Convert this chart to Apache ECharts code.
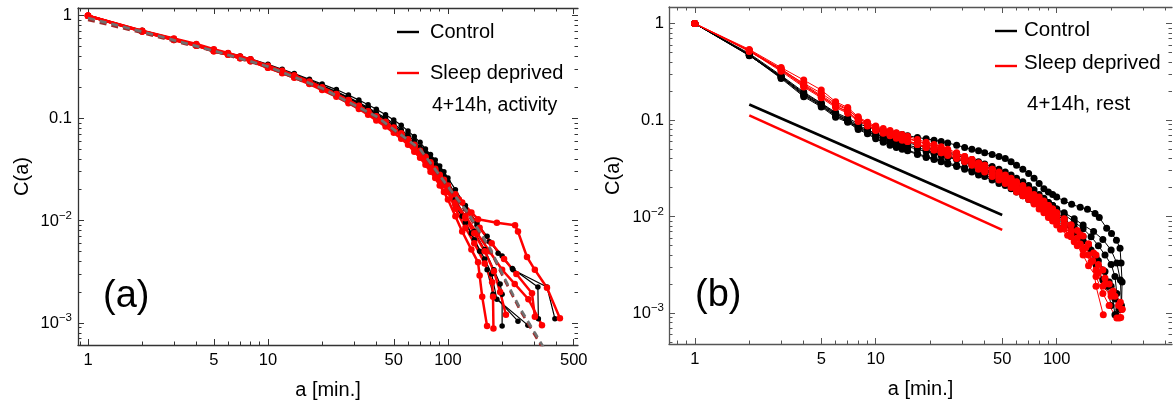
<!DOCTYPE html>
<html><head><meta charset="utf-8">
<script src="https://cdn.jsdelivr.net/npm/echarts@6/dist/echarts.min.js"></script>
<style>html,body{margin:0;padding:0;background:#fff}#c{width:1173px;height:403px}</style>
</head><body><div id="c"></div>
<script>
// ---------- Panel (a): activity ----------
const aGridA = [1,2,3,4,5,6,7,8,10,12,14,17,20,24,28,32,36,40,45,50,55,60,65,70,75,80,85,90,95,100];
const ctlA1 = [1,0.72,0.60,0.53,0.47,0.435,0.405,0.38,0.335,0.30,0.273,0.24,0.215,0.19,0.168,0.15,0.135,0.122,0.108,0.096,0.085,0.075,0.066,0.058,0.05,0.044,0.039,0.034,0.030,0.026];
const ctlA2 = [1,0.71,0.595,0.525,0.465,0.43,0.40,0.375,0.33,0.295,0.268,0.235,0.208,0.182,0.16,0.142,0.127,0.113,0.10,0.088,0.077,0.068,0.06,0.052,0.046,0.04,0.035,0.031,0.027,0.024];
const ctlA3 = [1,0.70,0.585,0.515,0.455,0.42,0.39,0.365,0.32,0.288,0.262,0.23,0.203,0.177,0.155,0.137,0.122,0.108,0.095,0.083,0.073,0.064,0.056,0.049,0.043,0.037,0.032,0.028,0.024,0.021];
const ctlA4 = [1,0.71,0.59,0.52,0.46,0.425,0.395,0.37,0.325,0.29,0.263,0.232,0.206,0.18,0.158,0.14,0.124,0.11,0.097,0.085,0.074,0.065,0.057,0.05,0.044,0.038,0.033,0.029,0.025,0.022];
const ctlA5 = [1,0.705,0.585,0.515,0.455,0.42,0.39,0.365,0.32,0.285,0.258,0.226,0.2,0.175,0.153,0.135,0.12,0.106,0.093,0.082,0.072,0.063,0.055,0.048,0.042,0.036,0.031,0.027,0.023,0.02];
const ctlA1Tail = [[110,0.02],[125,0.014],[145,0.0095],[165,0.007],[190,0.0048],[230,0.0033],[355,0.00224],[393,0.0011]];
const ctlA2Tail = [[110,0.018],[125,0.013],[145,0.009],[170,0.0062],[200,0.0045],[228,0.0034],[316,0.00224],[318,0.0011]];
const ctlA3Tail = [[110,0.016],[125,0.011],[140,0.0078],[160,0.0052],[180,0.0033],[195,0.0024],[200,0.0019],[200,0.00093]];
const ctlA4Tail = [[110,0.015],[120,0.011],[135,0.0075],[150,0.005],[165,0.0033],[178,0.0019],[245,0.00104]];
const ctlA5Tail = [[110,0.014],[125,0.0095],[140,0.0065],[160,0.0042],[175,0.003],[187,0.0017],[278,0.00095]];

const sdA1 = [1,0.715,0.60,0.53,0.47,0.432,0.40,0.375,0.325,0.29,0.262,0.228,0.2,0.172,0.15,0.132,0.117,0.104,0.092,0.081,0.071,0.062,0.055,0.048,0.042,0.037,0.032,0.028,0.025,0.022];
const sdA2 = [1,0.70,0.58,0.51,0.45,0.415,0.385,0.36,0.31,0.275,0.248,0.215,0.188,0.162,0.14,0.123,0.108,0.095,0.083,0.072,0.063,0.055,0.047,0.041,0.035,0.03,0.026,0.022,0.019,0.016];
const sdA3 = [1,0.705,0.585,0.515,0.455,0.42,0.39,0.365,0.315,0.28,0.253,0.22,0.193,0.167,0.145,0.128,0.113,0.1,0.088,0.077,0.067,0.059,0.051,0.045,0.039,0.034,0.029,0.025,0.022,0.019];
const sdA4 = [1,0.71,0.59,0.52,0.46,0.425,0.395,0.37,0.32,0.285,0.257,0.224,0.197,0.171,0.149,0.131,0.116,0.103,0.091,0.08,0.07,0.061,0.054,0.047,0.041,0.036,0.031,0.027,0.024,0.021];
const sdA5 = [1,0.70,0.58,0.51,0.45,0.415,0.385,0.36,0.31,0.277,0.25,0.218,0.192,0.167,0.146,0.129,0.114,0.101,0.089,0.078,0.068,0.06,0.052,0.046,0.04,0.035,0.03,0.026,0.023,0.02];
const sdA6 = [1,0.70,0.585,0.515,0.455,0.42,0.39,0.365,0.318,0.283,0.255,0.222,0.195,0.169,0.147,0.13,0.115,0.102,0.09,0.079,0.069,0.06,0.053,0.046,0.04,0.035,0.03,0.026,0.023,0.02];
const sdA1Tail = [[110,0.018],[120,0.015],[135,0.012],[147,0.0103],[187,0.0095],[236,0.009],[245,0.0078],[275,0.0044],[304,0.0033],[355,0.0022],[419,0.00111]];
const sdA2Tail = [[110,0.011],[120,0.0078],[135,0.0052],[147,0.0039],[150,0.0029],[155,0.0018],[165,0.00093]];
const sdA3Tail = [[110,0.013],[125,0.0085],[140,0.006],[160,0.0038],[176,0.0025],[178,0.0018],[179,0.00088]];
const sdA4Tail = [[115,0.016],[130,0.012],[150,0.0085],[175,0.006],[205,0.0042],[240,0.003],[293,0.00195],[304,0.00115]];
const sdA5Tail = [[110,0.015],[125,0.011],[145,0.0075],[170,0.005],[200,0.0033],[235,0.0024],[280,0.0017],[333,0.00095]];
const sdA6Tail = [[110,0.0145],[125,0.0105],[140,0.0075],[160,0.005],[180,0.0032],[195,0.002],[210,0.0012]];

const fitDarkA = [[1,0.91],[2,0.68],[5,0.45],[10,0.315],[20,0.192],[40,0.102],[70,0.049],[100,0.021],[128,0.0118],[171,0.0052],[207,0.0026],[251,0.00134],[304,0.00076],[346,0.00052]];
const fitGrayA = [[1,0.95],[2,0.70],[5,0.455],[10,0.32],[20,0.196],[40,0.104],[70,0.05],[100,0.0215],[128,0.0122],[171,0.0054],[207,0.0027],[251,0.0014],[304,0.0008],[346,0.00055]];

// ---------- Panel (b): rest ----------
const aGridB = [1,2,3,4,5,6,7,8,9,10,11,12,13,14,15,17,19,21,23,25,28,31,34,37,40,44,48,52,56,60,65,70,75,80,85,90,95,100];
const ctlB1 = [1,0.49,0.29,0.195,0.15,0.12,0.105,0.092,0.085,0.08,0.077,0.075,0.073,0.071,0.069,0.066,0.064,0.062,0.06,0.058,0.055,0.052,0.05,0.048,0.046,0.044,0.042,0.04,0.037,0.034,0.031,0.028,0.025,0.022,0.0195,0.018,0.017,0.016];
const ctlB2 = [1,0.48,0.28,0.185,0.145,0.115,0.1,0.085,0.078,0.072,0.068,0.065,0.062,0.06,0.058,0.055,0.052,0.05,0.048,0.046,0.043,0.041,0.039,0.037,0.035,0.033,0.031,0.029,0.027,0.025,0.023,0.021,0.019,0.017,0.0155,0.014,0.013,0.012];
const ctlB3 = [1,0.47,0.275,0.18,0.14,0.11,0.097,0.082,0.074,0.066,0.061,0.057,0.054,0.051,0.049,0.045,0.042,0.04,0.038,0.036,0.034,0.032,0.03,0.028,0.027,0.025,0.023,0.022,0.02,0.019,0.0175,0.016,0.015,0.014,0.013,0.012,0.0112,0.0105];
const ctlB4 = [1,0.47,0.27,0.175,0.137,0.107,0.095,0.08,0.072,0.064,0.059,0.055,0.052,0.05,0.048,0.044,0.041,0.039,0.037,0.035,0.033,0.031,0.029,0.027,0.026,0.024,0.022,0.021,0.0195,0.018,0.0165,0.015,0.014,0.013,0.012,0.011,0.0102,0.0095];
const ctlB5 = [1,0.465,0.28,0.185,0.142,0.112,0.098,0.084,0.076,0.069,0.064,0.06,0.057,0.055,0.053,0.05,0.047,0.045,0.043,0.041,0.039,0.037,0.035,0.033,0.031,0.029,0.027,0.025,0.023,0.022,0.02,0.018,0.017,0.016,0.015,0.014,0.013,0.012];
const ctlB6 = [1,0.475,0.285,0.19,0.148,0.117,0.102,0.088,0.08,0.072,0.067,0.063,0.06,0.057,0.055,0.052,0.049,0.046,0.044,0.042,0.04,0.037,0.034,0.032,0.03,0.028,0.026,0.024,0.022,0.021,0.019,0.017,0.016,0.015,0.014,0.013,0.012,0.011];
const ctlB1Tail = [[110,0.0145],[121,0.0134],[135,0.0125],[148,0.0119],[163,0.0108],[172,0.0098],[189,0.0076],[201,0.0067],[214,0.0057],[224,0.0047],[227,0.0033],[230,0.0021],[228,0.0011]];
const ctlB2Tail = [[110,0.0105],[125,0.0088],[140,0.0075],[155,0.0062],[170,0.005],[185,0.004],[200,0.0032],[210,0.0024],[215,0.0016],[212,0.00096]];
const ctlB3Tail = [[110,0.0092],[120,0.008],[135,0.0065],[150,0.005],[165,0.0038],[180,0.0028],[195,0.0021],[210,0.0014],[222,0.0011]];
const ctlB4Tail = [[110,0.0082],[125,0.0068],[140,0.0056],[155,0.0045],[170,0.0035],[185,0.0027],[200,0.0019],[210,0.00096]];
const ctlB5Tail = [[110,0.011],[125,0.0095],[140,0.0082],[160,0.007],[180,0.0058],[200,0.0045],[215,0.0033],[225,0.0022],[228,0.0012]];
const ctlB6Tail = [[110,0.0095],[125,0.0078],[140,0.0062],[150,0.005],[165,0.0032],[180,0.0022],[190,0.0019],[200,0.0012]];

const sdB1 = [1,0.54,0.35,0.26,0.205,0.155,0.135,0.108,0.095,0.087,0.082,0.078,0.074,0.071,0.068,0.063,0.059,0.056,0.053,0.05,0.046,0.042,0.039,0.036,0.034,0.031,0.028,0.026,0.024,0.022,0.02,0.018,0.016,0.015,0.014,0.013,0.012,0.011];
const sdB2 = [1,0.53,0.34,0.235,0.18,0.145,0.128,0.105,0.092,0.083,0.078,0.074,0.07,0.067,0.064,0.06,0.056,0.053,0.05,0.047,0.044,0.041,0.038,0.035,0.033,0.03,0.028,0.026,0.024,0.022,0.02,0.018,0.0165,0.015,0.0135,0.012,0.011,0.01];
const sdB3 = [1,0.52,0.33,0.225,0.175,0.14,0.123,0.1,0.09,0.08,0.075,0.071,0.067,0.064,0.061,0.057,0.053,0.05,0.047,0.045,0.042,0.039,0.036,0.033,0.031,0.028,0.026,0.024,0.022,0.02,0.018,0.016,0.015,0.0135,0.012,0.011,0.01,0.0092];
const sdB4 = [1,0.52,0.32,0.22,0.17,0.135,0.118,0.097,0.087,0.078,0.073,0.069,0.065,0.062,0.06,0.056,0.052,0.049,0.046,0.044,0.041,0.038,0.035,0.032,0.03,0.027,0.025,0.023,0.021,0.019,0.017,0.0155,0.014,0.013,0.0115,0.0105,0.0095,0.0088];
const sdB5 = [1,0.515,0.33,0.23,0.175,0.14,0.12,0.1,0.088,0.079,0.074,0.07,0.066,0.063,0.06,0.056,0.052,0.049,0.046,0.043,0.04,0.037,0.034,0.031,0.029,0.026,0.024,0.022,0.02,0.018,0.0165,0.015,0.0135,0.012,0.011,0.0098,0.009,0.0082];
const sdB6 = [1,0.525,0.335,0.24,0.19,0.15,0.13,0.104,0.093,0.084,0.079,0.075,0.071,0.068,0.065,0.061,0.057,0.054,0.051,0.048,0.045,0.042,0.039,0.036,0.034,0.031,0.029,0.027,0.025,0.023,0.021,0.019,0.017,0.016,0.0145,0.013,0.012,0.011];
const sdB1Tail = [[110,0.0095],[120,0.0082],[135,0.0065],[150,0.0052],[165,0.004],[180,0.0028],[195,0.002],[210,0.0015],[222,0.00089]];
const sdB2Tail = [[110,0.0085],[120,0.0072],[130,0.006],[145,0.0048],[158,0.0035],[165,0.0019],[181,0.00096]];
const sdB3Tail = [[110,0.0078],[120,0.0066],[135,0.0052],[150,0.004],[165,0.0028],[180,0.0019],[200,0.0015],[230,0.0011]];
const sdB4Tail = [[110,0.0075],[120,0.0062],[130,0.005],[140,0.004],[150,0.0031],[165,0.0024],[180,0.0016],[195,0.0012],[215,0.00089]];
const sdB5Tail = [[105,0.0074],[115,0.0064],[125,0.0055],[140,0.0045],[155,0.0034],[170,0.0026],[185,0.002],[200,0.0016],[220,0.0012],[226,0.0009]];
const sdB6Tail = [[110,0.0094],[120,0.0082],[130,0.0072],[140,0.0063],[150,0.0052],[160,0.0042],[170,0.0032],[185,0.0023],[205,0.0017],[225,0.0013],[230,0.0011]];

const powCtlB = [[2,0.145],[50,0.0104]];
const powSdB = [[2,0.112],[50,0.0073]];

// ---------- tick labels ----------
const xLabelVals = [1,5,10,50,100,500];
const xMajorVals = [1,5,10,50,100,500];
const xMinorVals = [0.7,0.8,0.9,2,3,4,6,7,8,9,20,30,40,60,70,80,90,200,300,400];
const yLabelVals = [1,0.1,0.01,0.001];
const yMinorVals = [0.0005,0.0006,0.0007,0.0008,0.0009,0.002,0.003,0.004,0.005,0.006,0.007,0.008,0.009,0.02,0.03,0.04,0.05,0.06,0.07,0.08,0.09,0.2,0.3,0.4,0.5,0.6,0.7,0.8,0.9];

const FONT = '"Liberation Sans", Arial, Helvetica, sans-serif';
const RED = '#ff0000';

function xAxes(gi, min, max, color) {
  const common = {type:'log', logBase:10, gridIndex:gi, min:min, max:max, splitLine:{show:false}, silent:true};
  const tick = (vals, len) => ({show:true, inside:true, length:len, customValues:vals, lineStyle:{color:color, width:1}});
  return [
    Object.assign({}, common, {position:'bottom', axisLine:{show:true, onZero:false, lineStyle:{color:color, width:1.3}},
      axisTick:tick(xMajorVals, 6),
      axisLabel:{show:true, customValues:xLabelVals, formatter:v => String(Math.round(v)), color:'#000', fontSize:16.5, fontFamily:FONT, margin:7},
      name:'a [min.]', nameLocation:'middle', nameGap:35, nameTextStyle:{color:'#000', fontSize:20, fontFamily:FONT}}),
    Object.assign({}, common, {position:'bottom', axisLine:{show:false}, axisTick:tick(xMinorVals, 3.5), axisLabel:{show:false}}),
    Object.assign({}, common, {position:'top', axisLine:{show:true, onZero:false, lineStyle:{color:color, width:1.3}}, axisTick:tick(xMajorVals, 6), axisLabel:{show:false}}),
    Object.assign({}, common, {position:'top', axisLine:{show:false}, axisTick:tick(xMinorVals, 3.5), axisLabel:{show:false}})
  ];
}
function yFmt(v) {
  const e = Math.round(Math.log10(v));
  if (e === 0) return '1';
  if (e === -1) return '0.1';
  return '{b|10}{s|\u2212' + (-e) + '}';
}
function yAxes(gi, min, max, color, margin) {
  const common = {type:'log', logBase:10, gridIndex:gi, min:min, max:max, splitLine:{show:false}, silent:true};
  const tick = (vals, len) => ({show:true, inside:true, length:len, customValues:vals, lineStyle:{color:color, width:1}});
  return [
    Object.assign({}, common, {position:'left', axisLine:{show:true, onZero:false, lineStyle:{color:color, width:1.3}},
      axisTick:tick(yLabelVals, 6),
      axisLabel:{show:true, customValues:yLabelVals, formatter:yFmt, color:'#000', fontSize:16.5, fontFamily:FONT, margin:margin,
        rich:{b:{fontSize:16.5, fontFamily:FONT, color:'#000', verticalAlign:'bottom', lineHeight:18},
              s:{fontSize:11.5, fontFamily:FONT, color:'#000', verticalAlign:'bottom', lineHeight:11, padding:[0,0,8,0]}}},
      name:'C(a)', nameLocation:'middle', nameGap:46, nameTextStyle:{color:'#000', fontSize:20, fontFamily:FONT}}),
    Object.assign({}, common, {position:'left', axisLine:{show:false}, axisTick:tick(yMinorVals, 3.5), axisLabel:{show:false}}),
    Object.assign({}, common, {position:'right', axisLine:{show:false}, axisTick:tick(yLabelVals, 6), axisLabel:{show:false}}),
    Object.assign({}, common, {position:'right', axisLine:{show:false}, axisTick:tick(yMinorVals, 3.5), axisLabel:{show:false}})
  ];
}

function pairs(aVals, cVals, tail) {
  return aVals.map((a, i) => [a, cVals[i]]).concat(tail || []);
}
function curve(axisIdx, data, color, lw, sym) {
  return {type:'line', xAxisIndex:axisIdx, yAxisIndex:axisIdx, data:data, symbol:'circle', symbolSize:sym,
    showSymbol:true, showAllSymbol:true, lineStyle:{color:color, width:lw}, itemStyle:{color:color},
    silent:true, animation:false, clip:true};
}
function dashed(axisIdx, data, color) {
  return {type:'line', xAxisIndex:axisIdx, yAxisIndex:axisIdx, data:data, symbol:'none',
    lineStyle:{color:color, width:2.6, type:[7,5]}, silent:true, animation:false, clip:true, z:5};
}
function straight(axisIdx, data, color) {
  return {type:'line', xAxisIndex:axisIdx, yAxisIndex:axisIdx, data:data, symbol:'none',
    lineStyle:{color:color, width:2.6}, silent:true, animation:false, clip:true, z:5};
}

const series = [];
// panel (a)
[[ctlA1,ctlA1Tail],[ctlA2,ctlA2Tail],[ctlA3,ctlA3Tail],[ctlA4,ctlA4Tail],[ctlA5,ctlA5Tail]].forEach(p => series.push(curve(0, pairs(aGridA, p[0], p[1]), '#000', 1.2, 5.5)));
[[sdA1,sdA1Tail],[sdA2,sdA2Tail],[sdA3,sdA3Tail],[sdA4,sdA4Tail],[sdA5,sdA5Tail],[sdA6,sdA6Tail]].forEach(p => series.push(curve(0, pairs(aGridA, p[0], p[1]), RED, 2.5, 6.5)));
series.push(dashed(0, fitDarkA, '#a02828'));
series.push(dashed(0, fitGrayA, '#707070'));
// panel (b)
[[ctlB1,ctlB1Tail],[ctlB2,ctlB2Tail],[ctlB3,ctlB3Tail],[ctlB4,ctlB4Tail],[ctlB5,ctlB5Tail],[ctlB6,ctlB6Tail]].forEach(p => series.push(curve(4, pairs(aGridB, p[0], p[1]), '#000', 1, 7)));
[[sdB1,sdB1Tail],[sdB2,sdB2Tail],[sdB3,sdB3Tail],[sdB4,sdB4Tail],[sdB5,sdB5Tail],[sdB6,sdB6Tail]].forEach(p => series.push(curve(4, pairs(aGridB, p[0], p[1]), RED, 1, 7)));
series.push(straight(4, powCtlB, '#000'));
series.push(straight(4, powSdB, RED));

const txt = (x, y, s, size) => ({type:'text', x:x, y:y, silent:true, style:{text:s, font:size + 'px ' + FONT, fill:'#000', verticalAlign:'middle', align:'left'}});
const seg = (x1, x2, y, color) => ({type:'line', silent:true, shape:{x1:x1, y1:y, x2:x2, y2:y}, style:{stroke:color, lineWidth:2.4}});

const chart = echarts.init(document.getElementById('c'), null, {renderer:'canvas'});
chart.setOption({
  animation:false,
  backgroundColor:'#fff',
  grid:[
    {left:78, top:8, width:500, height:337, outerBoundsMode:'none', containLabel:false},
    {left:669, top:7, width:503, height:337, outerBoundsMode:'none', containLabel:false}
  ],
  xAxis: xAxes(0, 0.88, 528, '#333').concat(xAxes(1, 0.72, 434, '#555')),
  yAxis: yAxes(0, 0.000608, 1.19, '#333', 6).concat(yAxes(1, 0.000479, 1.485, '#555', 5)),
  series: series,
  graphic:[
    seg(397, 419, 32, '#000'), txt(430, 32, 'Control', 20),
    seg(397, 419, 73, RED), txt(430, 73, 'Sleep deprived', 20),
    txt(432, 106, '4+14h, activity', 19.5),
    txt(103, 297, '(a)', 38),
    seg(995, 1017, 31, '#000'), txt(1024, 30, 'Control', 20.5),
    seg(995, 1017, 66, RED), txt(1024, 63, 'Sleep deprived', 20.5),
    txt(1027, 104, '4+14h, rest', 20.5),
    txt(695, 296, '(b)', 38)
  ]
});
</script>
</body></html>
